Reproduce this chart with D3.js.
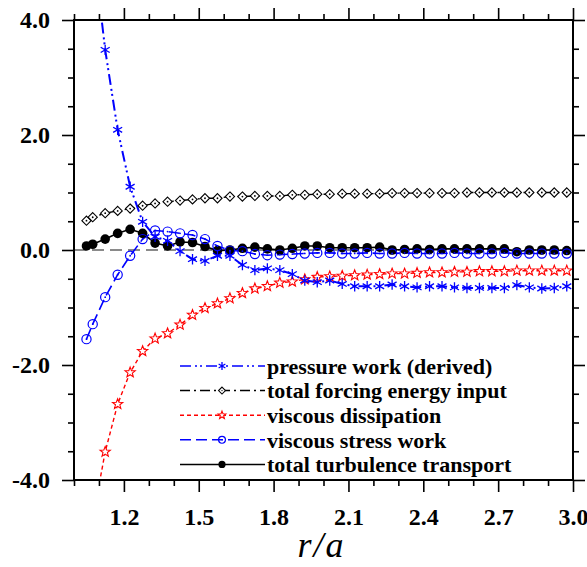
<!DOCTYPE html>
<html>
<head>
<meta charset="utf-8">
<script src="https://cdn.jsdelivr.net/npm/d3@7"></script>
<style>
  html, body { margin: 0; padding: 0; background: #fff; }
  svg { display: block; }
</style>
</head>
<body>
<svg id="chart" width="587" height="567"></svg>
<script>
// Radial positions r/a shared by every profile
const rOverA = [1.05, 1.075, 1.125, 1.175, 1.225, 1.275, 1.325, 1.375, 1.425, 1.475,
                1.525, 1.575, 1.625, 1.675, 1.725, 1.775, 1.825, 1.875, 1.925, 1.975,
                2.025, 2.075, 2.125, 2.175, 2.225, 2.275, 2.325, 2.375, 2.425, 2.475,
                2.525, 2.575, 2.625, 2.675, 2.725, 2.775, 2.825, 2.875, 2.925, 2.975];

const pressureWork = [6.2, 5.34, 3.48, 2.09, 1.10, 0.49, 0.23, 0.16, -0.02, -0.16,
                      -0.19, -0.10, -0.10, -0.26, -0.35, -0.32, -0.35, -0.42, -0.53, -0.56,
                      -0.53, -0.59, -0.63, -0.63, -0.63, -0.60, -0.63, -0.65, -0.63, -0.63,
                      -0.65, -0.66, -0.66, -0.66, -0.66, -0.61, -0.65, -0.67, -0.66, -0.63];

const forcingInput = [0.51, 0.57, 0.64, 0.68, 0.72, 0.77, 0.81, 0.84, 0.86, 0.88,
                      0.90, 0.90, 0.93, 0.93, 0.94, 0.94, 0.94, 0.96, 0.96, 0.97,
                      0.97, 0.98, 0.98, 0.98, 0.98, 0.99, 0.99, 0.99, 0.99, 0.99,
                      0.99, 1.00, 1.00, 1.00, 1.00, 1.00, 1.00, 1.00, 1.00, 1.00];

const viscousDissipation = [-5.5, -4.68, -3.51, -2.68, -2.13, -1.76, -1.54, -1.45, -1.30, -1.13,
                            -1.01, -0.93, -0.84, -0.75, -0.67, -0.63, -0.57, -0.55, -0.51, -0.47,
                            -0.46, -0.45, -0.44, -0.43, -0.42, -0.41, -0.41, -0.40, -0.39, -0.39,
                            -0.38, -0.38, -0.37, -0.37, -0.37, -0.36, -0.36, -0.36, -0.36, -0.36];

const viscousStressWork = [-1.55, -1.29, -0.82, -0.43, -0.10, 0.19, 0.34, 0.32, 0.29, 0.26,
                           0.19, 0.07, -0.01, -0.02, -0.07, -0.09, -0.08, -0.07, -0.06, -0.05,
                           -0.05, -0.06, -0.06, -0.05, -0.06, -0.06, -0.05, -0.06, -0.06, -0.06,
                           -0.05, -0.06, -0.06, -0.06, -0.05, -0.06, -0.06, -0.06, -0.06, -0.06];

const turbulenceTransport = [0.07, 0.10, 0.19, 0.29, 0.36, 0.29, 0.12, 0.07, 0.14, 0.13,
                             0.06, -0.01, 0.00, 0.03, 0.05, 0.02, 0.00, 0.03, 0.07, 0.07,
                             0.04, 0.04, 0.04, 0.04, 0.05, 0.00, 0.01, 0.02, 0.01, 0.02,
                             0.02, 0.02, 0.02, 0.02, 0.02, -0.03, 0.00, 0.00, 0.00, -0.01];

const seriesNames = ["pressure work (derived)", "total forcing energy input",
                     "viscous dissipation", "viscous stress work", "total turbulence transport"];

const xTickValues = [1.2, 1.5, 1.8, 2.1, 2.4, 2.7, 3.0];
const yTickValues = [4, 2, 0, -2, -4];

// ---- layout ----
const svg = d3.select("#chart");
const plot = { left: 74, right: 573, top: 20, bottom: 480 };

const x = d3.scaleLinear().domain([1.0, 3.0]).range([plot.left, plot.right]);
const y = d3.scaleLinear().domain([-4, 4]).range([plot.bottom, plot.top]);

const fontFamily = "'Liberation Serif', 'Times New Roman', serif";

// ---- marker shapes ----
function starPath(ro, ri) {
  const pts = [];
  for (let i = 0; i < 10; i++) {
    const a = -Math.PI / 2 + i * Math.PI / 5;
    const r = i % 2 === 0 ? ro : ri;
    pts.push([r * Math.cos(a), r * Math.sin(a)]);
  }
  return "M" + pts.map(p => p.join(",")).join("L") + "Z";
}
function asteriskPath(r) {
  let d = "";
  for (let i = 0; i < 3; i++) {
    const a = Math.PI / 2 + i * Math.PI / 3;
    d += `M${-r * Math.cos(a)},${-r * Math.sin(a)}L${r * Math.cos(a)},${r * Math.sin(a)}`;
  }
  return d;
}
function drawMarker(g, kind, color, scale = 1) {
  if (kind === "asterisk") {
    g.append("path").attr("d", asteriskPath(5.2 * scale))
      .attr("stroke", color).attr("stroke-width", 1.3).attr("fill", "none");
  } else if (kind === "diamond") {
    const s = 4.6 * scale;
    g.append("path").attr("d", `M0,${-s}L${s},0L0,${s}L${-s},0Z`)
      .attr("stroke", color).attr("stroke-width", 1.1).attr("fill", "#fff");
    g.append("circle").attr("r", 0.9 * scale).attr("fill", color);
  } else if (kind === "star") {
    g.append("path").attr("d", starPath(5.4 * scale, 2.3 * scale))
      .attr("stroke", color).attr("stroke-width", 1.1).attr("fill", "#fff");
  } else if (kind === "ocircle") {
    g.append("circle").attr("r", 4.6 * scale)
      .attr("stroke", color).attr("stroke-width", 1.2).attr("fill", "none");
    g.append("circle").attr("r", 0.9 * scale).attr("fill", color);
  } else if (kind === "dot") {
    g.append("circle").attr("r", 4.8 * scale).attr("fill", color);
  }
}

// ---- series definitions (draw order) ----
const series = [
  { name: seriesNames[4], values: turbulenceTransport, color: "#000", dash: null, marker: "dot", width: 1.6 },
  { name: seriesNames[3], values: viscousStressWork, color: "#0000ff", dash: "11,5", marker: "ocircle", width: 1.6 },
  { name: seriesNames[2], values: viscousDissipation, color: "#ff0000", dash: "4,3", marker: "star", width: 1.4 },
  { name: seriesNames[1], values: forcingInput, color: "#000", dash: "10,4,2,4", marker: "diamond", width: 1.4 },
  { name: seriesNames[0], values: pressureWork, color: "#0000ff", dash: "11,4,2,3,2,4", marker: "asterisk", width: 2 }
];

// ---- clip ----
svg.append("defs").append("clipPath").attr("id", "plotClip")
  .append("rect")
  .attr("x", plot.left).attr("y", plot.top)
  .attr("width", plot.right - plot.left).attr("height", plot.bottom - plot.top);

// zero reference line
svg.append("line")
  .attr("x1", plot.left).attr("x2", plot.right)
  .attr("y1", y(0)).attr("y2", y(0))
  .attr("stroke", "#8a8a8a").attr("stroke-width", 2).attr("stroke-dasharray", "12,6");

const dataLayer = svg.append("g").attr("clip-path", "url(#plotClip)");
const line = d3.line().x((d, i) => x(rOverA[i])).y(d => y(d));

series.forEach(s => {
  dataLayer.append("path")
    .attr("d", line(s.values))
    .attr("fill", "none")
    .attr("stroke", s.color)
    .attr("stroke-width", s.width)
    .attr("stroke-dasharray", s.dash);
});
series.forEach(s => {
  s.values.forEach((v, i) => {
    const g = dataLayer.append("g").attr("transform", `translate(${x(rOverA[i])},${y(v)})`);
    drawMarker(g, s.marker, s.color);
  });
});

// ---- axes (ticks pointing outward on all four sides) ----
const xMinor = d3.range(1.0, 3.0001, 0.1).map(v => +v.toFixed(2)).filter(v => !xTickValues.some(t => Math.abs(t - v) < 1e-6));
const yMinor = d3.range(-4, 4.0001, 0.5).filter(v => !yTickValues.includes(v));

function axisGroup(axisFn, scale, transform, majors, minors, labels) {
  const gMinor = svg.append("g").attr("transform", transform)
    .call(axisFn(scale).tickValues(minors).tickSize(6).tickFormat(""));
  const gMajor = svg.append("g").attr("transform", transform)
    .call(axisFn(scale).tickValues(majors).tickSize(12).tickSizeOuter(0)
      .tickFormat(labels ? (d => d.toFixed(1)) : ""));
  [gMinor, gMajor].forEach(g => {
    g.select(".domain").remove();
    g.selectAll(".tick line").attr("stroke", "#000").attr("stroke-width", 1.6);
  });
  return gMajor;
}

const bottomAxis = axisGroup(d3.axisBottom, x, `translate(0,${plot.bottom})`, xTickValues, xMinor, true);
bottomAxis.selectAll(".tick text")
  .attr("y", 28).attr("dy", "0.71em")
  .style("font-family", fontFamily).style("font-weight", "bold").style("font-size", "24px").attr("fill", "#000");

const leftAxis = axisGroup(d3.axisLeft, y, `translate(${plot.left},0)`, yTickValues, yMinor, true);
leftAxis.selectAll(".tick text")
  .attr("x", -24)
  .style("font-family", fontFamily).style("font-weight", "bold").style("font-size", "24px").attr("fill", "#000");

axisGroup(d3.axisTop, x, `translate(0,${plot.top})`, xTickValues, xMinor, false);
axisGroup(d3.axisRight, y, `translate(${plot.right},0)`, yTickValues, yMinor, false);

// frame
svg.append("rect")
  .attr("x", plot.left).attr("y", plot.top)
  .attr("width", plot.right - plot.left).attr("height", plot.bottom - plot.top)
  .attr("fill", "none").attr("stroke", "#000").attr("stroke-width", 2);

// x-axis title
svg.append("text")
  .attr("x", (plot.left + plot.right) / 2 - 2).attr("y", 557)
  .attr("text-anchor", "middle")
  .style("font-family", fontFamily).style("font-style", "italic").style("font-size", "36px")
  .style("letter-spacing", "2px")
  .text("r/a");

// ---- legend ----
const legendRowsTopDown = [series[4], series[3], series[2], series[1], series[0]];
const legend = svg.append("g");
legendRowsTopDown.forEach((s, i) => {
  const cy = 366 + i * 24.6;
  const row = legend.append("g").attr("transform", `translate(0,${cy})`);
  row.append("line")
    .attr("x1", 180).attr("x2", 265).attr("y1", 0).attr("y2", 0)
    .attr("stroke", s.color).attr("stroke-width", s.width === 2 ? 1.6 : 1.5)
    .attr("stroke-dasharray", s.dash);
  const m = row.append("g").attr("transform", "translate(222,0)");
  drawMarker(m, s.marker, s.color, 0.75);
  row.append("text")
    .attr("x", 267).attr("y", 0).attr("dy", "0.35em")
    .style("font-family", fontFamily).style("font-weight", "bold").style("font-size", "22px")
    .text(s.name);
});
</script>
</body>
</html>
